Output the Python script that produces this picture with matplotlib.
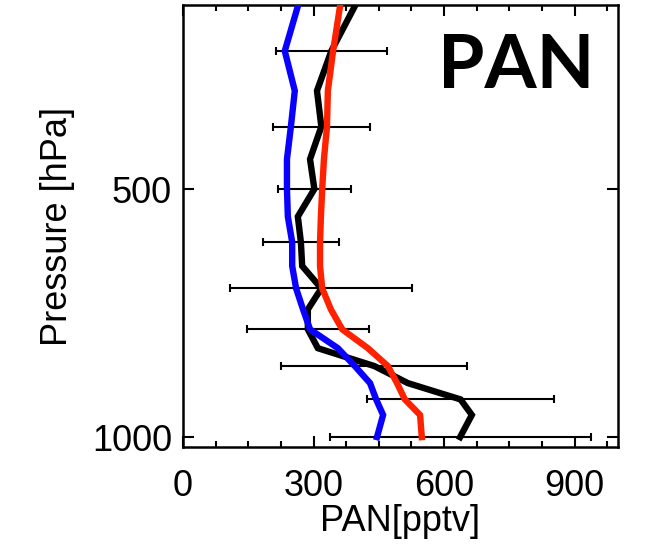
import matplotlib
matplotlib.use("Agg")
import matplotlib.pyplot as plt
from matplotlib.ticker import FixedLocator, NullLocator, MultipleLocator

# Pressure levels of the profiles [hPa]
pressure = [300, 340, 380, 420, 460, 500, 540, 580, 620, 660, 700,
            740, 780, 820, 860, 900, 940, 1000]

# PAN mixing ratio profiles [pptv]
pan_obs = [395, 341, 308, 318, 292, 302, 264, 271, 274, 318, 287,
           287, 310, 440, 517, 638, 664, 637]
pan_model_a = [264, 234, 257, 248, 239, 239, 241, 251, 251, 260, 276,
               292, 356, 395, 430, 444, 460, 446]
pan_model_b = [361, 345, 333, 331, 324, 320, 317, 315, 315, 320, 340,
               366, 425, 471, 492, 510, 545, 549]

# Observed variability (one standard deviation) at the binned levels
err_pressure = [340, 420, 500, 580, 660, 740, 820, 900, 1000]
err_center = [341, 318, 302, 271, 318, 287, 440, 638, 637]
err_sd = [128, 112, 84, 88, 209, 140, 214, 214, 300]

x_major = [0, 300, 600, 900]
y_major = [500, 1000]

plt.rcParams["font.family"] = ["Liberation Sans", "DejaVu Sans"]

fig = plt.figure(figsize=(6.48, 5.49), dpi=100)
ax = fig.add_axes([183 / 648, 1 - 447 / 549, 435 / 648, 442 / 549])

ax.errorbar(err_center, err_pressure, xerr=err_sd, fmt="none",
            ecolor="black", elinewidth=1.5, capsize=3, capthick=1.5,
            zorder=1)
ax.plot(pan_obs, pressure, color="black", lw=4.6, zorder=2,
        solid_joinstyle="miter")
ax.plot(pan_model_a, pressure, color="#0a00ff", lw=4.6, zorder=3,
        solid_joinstyle="miter")
ax.plot(pan_model_b, pressure, color="#ff2200", lw=4.6, zorder=4,
        solid_joinstyle="miter")

ax.set_yscale("log")
ax.set_ylim(1028, 299)
ax.set_xlim(0, 1000)

ax.xaxis.set_major_locator(FixedLocator(x_major))
ax.xaxis.set_minor_locator(MultipleLocator(75))
ax.yaxis.set_major_locator(FixedLocator(y_major))
ax.yaxis.set_minor_locator(NullLocator())
ax.set_yticklabels([str(v) for v in y_major])
ax.set_xticklabels([str(v) for v in x_major])

ax.tick_params(which="both", direction="in", top=True, right=True,
               width=1.5, labelsize=26, color="black")
ax.tick_params(which="major", length=8)
ax.tick_params(which="minor", length=4)
ax.tick_params(axis="x", pad=16)
ax.tick_params(axis="y", pad=8)
for s in ax.spines.values():
    s.set_linewidth(1.8)

ax.set_xlabel("PAN[pptv]", fontsize=26, labelpad=0)
ax.set_ylabel("Pressure [hPa]", fontsize=26, labelpad=12)

fig.text(438 / 648, 1 - 88 / 549, "PAN", family=["Lato", "DejaVu Sans"],
         fontweight="bold", fontsize=54, va="baseline", ha="left")

fig.savefig("out.png", dpi=100)
